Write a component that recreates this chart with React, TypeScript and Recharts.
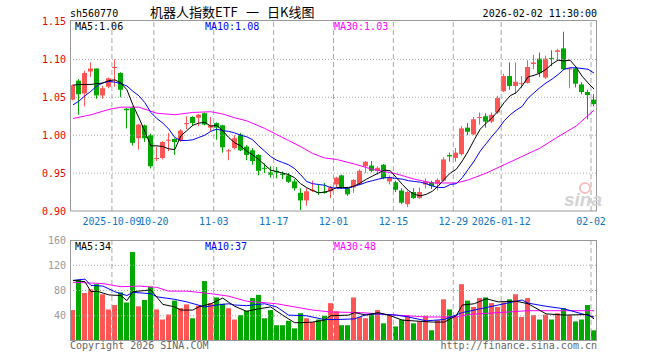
import React from 'react';
import { ComposedChart, Bar, Line, XAxis, YAxis, ReferenceLine } from 'recharts';

const dates = [
  '2025-09-22','2025-09-23','2025-09-24','2025-09-25','2025-09-26','2025-09-29','2025-09-30','2025-10-09','2025-10-10','2025-10-13',
  '2025-10-14','2025-10-15','2025-10-16','2025-10-17','2025-10-20','2025-10-21','2025-10-22','2025-10-23','2025-10-24','2025-10-27',
  '2025-10-28','2025-10-29','2025-10-30','2025-10-31','2025-11-03','2025-11-04','2025-11-05','2025-11-06','2025-11-07','2025-11-10',
  '2025-11-11','2025-11-12','2025-11-13','2025-11-14','2025-11-17','2025-11-18','2025-11-19','2025-11-20','2025-11-21','2025-11-24',
  '2025-11-25','2025-11-26','2025-11-27','2025-11-28','2025-12-01','2025-12-02','2025-12-03','2025-12-04','2025-12-05','2025-12-08',
  '2025-12-09','2025-12-10','2025-12-11','2025-12-12','2025-12-15','2025-12-16','2025-12-17','2025-12-18','2025-12-19','2025-12-22',
  '2025-12-23','2025-12-24','2025-12-25','2025-12-26','2025-12-29','2025-12-30','2025-12-31','2026-01-05','2026-01-06','2026-01-07',
  '2026-01-08','2026-01-09','2026-01-12','2026-01-13','2026-01-14','2026-01-15','2026-01-16','2026-01-19','2026-01-20','2026-01-21',
  '2026-01-22','2026-01-23','2026-01-26','2026-01-27','2026-01-28','2026-01-29','2026-01-30','2026-02-02',
];

const opens = [
  1.047,1.072,1.055,1.084,1.088,1.0525,1.064,1.089,1.082,1.035,
  1.036,0.996,1.013,1.000,0.969,0.970,0.993,0.995,0.993,1.015,
  1.024,1.023,1.029,1.010,1.016,1.013,0.979,0.983,1.001,0.985,
  0.980,0.974,0.957,0.951,0.953,0.949,0.947,0.939,0.924,0.914,
  0.927,0.925,0.925,0.926,0.935,0.947,0.930,0.931,0.935,0.959,
  0.960,0.953,0.961,0.939,0.938,0.927,0.909,0.925,0.917,0.935,
  0.938,0.936,0.940,0.974,0.970,0.975,1.010,1.001,1.023,1.025,
  1.018,1.030,1.058,1.078,1.065,1.068,1.069,1.094,1.101,1.076,
  1.102,1.110,1.1145,1.087,1.088,1.067,1.057,1.047,
];
const highs = [
  1.067,1.074,1.085,1.096,1.088,1.065,1.076,1.100,1.083,1.036,
  1.038,1.015,1.014,1.002,0.985,0.992,1.003,0.996,1.008,1.025,
  1.025,1.028,1.030,1.024,1.017,1.014,0.982,1.000,1.003,0.987,
  0.983,0.975,0.963,0.959,0.958,0.952,0.950,0.942,0.930,0.930,
  0.940,0.935,0.937,0.933,0.945,0.948,0.932,0.942,0.955,0.966,
  0.966,0.959,0.962,0.947,0.940,0.930,0.927,0.930,0.931,0.943,
  0.940,0.943,0.971,0.977,0.983,1.012,1.016,1.024,1.030,1.029,
  1.030,1.052,1.081,1.096,1.096,1.078,1.099,1.106,1.109,1.105,
  1.112,1.114,1.1365,1.089,1.089,1.070,1.060,1.054,
];
const lows = [
  1.046,1.027,1.038,1.077,1.048,1.048,1.062,1.064,1.050,1.009,
  0.9865,0.981,0.991,0.956,0.966,0.968,0.979,0.974,0.991,1.008,
  1.012,1.012,1.013,1.005,0.994,0.977,0.967,0.981,0.979,0.967,
  0.961,0.947,0.950,0.944,0.943,0.942,0.937,0.927,0.901,0.907,
  0.925,0.921,0.923,0.917,0.931,0.929,0.920,0.924,0.934,0.950,
  0.951,0.948,0.942,0.935,0.925,0.909,0.905,0.916,0.916,0.930,
  0.929,0.927,0.939,0.965,0.965,0.973,1.000,1.000,1.014,1.010,
  1.016,1.028,1.057,1.060,1.055,1.062,1.068,1.087,1.077,1.074,
  1.091,1.098,1.086,1.062,1.063,1.054,1.021,1.038,
];
const closes = [
  1.066,1.054,1.082,1.088,1.0525,1.062,1.075,1.090,1.060,1.033,
  0.990,1.014,0.996,0.959,0.970,0.991,0.994,0.991,1.006,1.016,
  1.016,1.027,1.014,1.013,1.010,0.984,0.980,0.996,0.980,0.974,
  0.966,0.953,0.956,0.948,0.951,0.948,0.9385,0.930,0.914,0.926,
  0.928,0.924,0.924,0.931,0.944,0.931,0.922,0.941,0.953,0.965,
  0.953,0.957,0.943,0.945,0.928,0.911,0.925,0.917,0.925,0.939,
  0.933,0.941,0.968,0.972,0.977,1.009,1.0045,1.021,1.024,1.018,
  1.027,1.049,1.078,1.065,1.0705,1.069,1.090,1.096,1.082,1.101,
  1.101,1.112,1.087,1.088,1.068,1.057,1.053,1.041,
];
const volumes = [
  49,97,76,82,90,74,50,57,77,61,
  141,55,65,86,50,34,42,64,52,58,
  36,56,95,60,69,59,52,34,41,48,
  68,73,36,49,25,25,32,20,44,36,
  30,34,40,60,47,25,25,69,38,36,
  44,49,28,41,23,34,41,28,31,40,
  17,33,66,50,39,90,64,54,68,69,
  60,54,61,66,74,38,68,41,34,42,
  34,44,52,41,31,34,57,17,
];

const ma5 = [
  1.066,1.067,1.067,1.067,1.068,1.069,1.072,1.073,1.069,1.060,
  1.040,1.023,1.005,0.986,0.986,0.985,0.982,0.981,0.999,1.006,
  1.013,1.016,1.017,1.012,1.013,1.006,0.997,0.990,0.986,0.979,
  0.974,0.968,0.961,0.954,0.952,0.950,0.948,0.944,0.936,0.931,
  0.927,0.924,0.925,0.927,0.931,0.931,0.931,0.933,0.937,0.942,
  0.946,0.950,0.954,0.953,0.944,0.935,0.927,0.922,0.920,0.922,
  0.926,0.933,0.942,0.950,0.955,0.966,0.979,0.994,1.008,1.016,
  1.023,1.032,1.043,1.052,1.056,1.065,1.077,1.079,1.082,1.087,
  1.094,1.099,1.098,1.099,1.090,1.078,1.069,1.061,
];
const ma10 = [
  1.040,1.045,1.052,1.058,1.065,1.069,1.071,1.070,1.068,1.065,
  1.058,1.052,1.043,1.030,1.022,1.016,1.008,0.997,0.993,0.993,
  0.994,0.997,1.000,1.005,1.008,1.006,1.005,1.003,1.000,0.998,
  0.994,0.986,0.979,0.972,0.967,0.964,0.961,0.956,0.948,0.939,
  0.936,0.935,0.934,0.931,0.930,0.930,0.930,0.933,0.935,0.938,
  0.940,0.942,0.944,0.944,0.943,0.942,0.940,0.939,0.938,0.936,
  0.933,0.931,0.931,0.935,0.936,0.944,0.955,0.966,0.979,0.989,
  0.999,1.008,1.019,1.027,1.033,1.038,1.049,1.056,1.063,1.069,
  1.074,1.080,1.087,1.089,1.089,1.088,1.087,1.082,
];
// [index, value] samples
const ma30Points: [number, number][] = [
  [0,1.022],[3,1.027],[6,1.034],[8,1.037],[11,1.037],[14,1.029],[17,1.027],[20,1.030],[23,1.031],
  [25,1.028],[27,1.023],[29,1.019],[32,1.009],[34,1.001],[36,0.993],[38,0.985],[40,0.976],[42,0.970],
  [44,0.968],[47,0.962],[50,0.955],[54,0.949],[57,0.942],[60,0.937],[64,0.937],[66,0.941],[69,0.950],
  [72,0.961],[75,0.972],[78,0.983],[81,0.998],[84,1.012],[87,1.033],
];
const volMa5Points: [number, number][] = [
  [0,96],[2,94],[3,78],[4,79],[6,73],[8,72],[9,64],[10,78],[12,80],[13,81],[15,58],[17,54],[18,49],
  [20,49],[21,54],[23,59],[25,68],[27,55],[29,47],[31,51],[33,54],[35,41],[37,29],[38,29],[40,30],
  [42,33],[43,40],[46,41],[47,45],[49,41],[51,45],[53,40],[55,33],[60,30],[62,30],[64,40],[65,57],
  [67,59],[69,67],[71,62],[74,63],[76,59],[79,43],[82,41],[86,42],[87,35],
];
const volMa10Points: [number, number][] = [
  [0,96],[2,98],[3,88],[5,87],[7,78],[9,72],[10,77],[13,75],[14,70],[17,66],[19,62],[22,54],[24,57],
  [26,59],[27,57],[29,56],[32,59],[34,54],[36,41],[39,40],[42,34],[44,34],[47,35],[49,42],[51,43],
  [54,41],[56,38],[59,32],[62,34],[65,45],[68,51],[71,57],[75,65],[76,60],[79,55],[82,51],[85,43],[87,38],
];
const volMa30Points: [number, number][] = [
  [0,93],[5,91],[8,86],[11,87],[14,85],[16,79],[19,79],[23,75],[26,71],[29,63],[34,59],[37,54],
  [40,49],[43,46],[48,45],[54,41],[59,38],[64,38],[66,42],[71,45],[76,48],[87,48],
];

const tickDates = ['2025-10-09','2025-10-20','2025-11-03','2025-11-17','2025-12-01','2025-12-15','2025-12-29','2026-01-12','2026-02-02'];
const tickLabels = ['2025-10-09','10-20','11-03','11-17','12-01','12-15','12-29','2026-01-12','02-02'];
const priceTicks = [0.9, 0.95, 1.0, 1.05, 1.1, 1.15];
const priceGrid = [0.95, 1.0, 1.05, 1.1];
const volTicks = [0, 40, 80, 120, 160];
const volGrid = [40, 80, 120];

const RED = '#ff5555';
const GREEN = '#00a800';
const BLUE_TXT = '#1076c6';
const MONO = '"DejaVu Sans Mono", "Noto Sans CJK SC", monospace';
const CJK = '"Noto Sans CJK SC", sans-serif';

const fromPoints = (pts: [number, number][]) => {
  const m: Record<number, number> = {};
  pts.forEach(([i, v]) => { m[i] = v; });
  return m;
};
const ma30Map = fromPoints(ma30Points);
const vm5Map = fromPoints(volMa5Points);
const vm10Map = fromPoints(volMa10Points);
const vm30Map = fromPoints(volMa30Points);

const rows = dates.map((d, i) => ({
  date: d,
  open: opens[i],
  high: highs[i],
  low: lows[i],
  close: closes[i],
  range: [lows[i], highs[i]],
  vol: volumes[i],
  up: closes[i] >= opens[i],
  ma5: ma5[i],
  ma10: ma10[i],
  ma30: ma30Map[i] ?? null,
  vma5: vm5Map[i] ?? null,
  vma10: vm10Map[i] ?? null,
  vma30: vm30Map[i] ?? null,
}));

const Candle = (props: any) => {
  let { x, y, height, payload } = props;
  if (height < 0) { y += height; height = -height; }
  const { open, close, high, low } = payload;
  const color = close >= open ? RED : GREEN;
  const span = high - low;
  const py = (p: number) => (span > 0 ? y + ((high - p) / span) * height : y);
  const left = Math.round(x);
  const cx = left + 2.5;
  const top = py(Math.max(open, close));
  const bot = py(Math.min(open, close));
  const bh = Math.max(1, bot - top);
  return (
    <g>
      <line x1={cx} x2={cx} y1={py(high)} y2={py(low)} stroke={color} strokeWidth={1} />
      <rect x={left} y={top} width={5} height={bh} fill={color} />
    </g>
  );
};

const VolBar = (props: any) => {
  let { x, y, height, payload } = props;
  if (height < 0) { y += height; height = -height; }
  return <rect x={Math.round(x)} y={y} width={5} height={height} fill={payload.up ? RED : GREEN} />;
};

const DateTick = (props: any) => {
  const { x, payload } = props;
  const i = tickDates.indexOf(payload.value);
  return (
    <text x={x - 3} y={225} textAnchor="middle" fill={BLUE_TXT} fontSize={10} fontFamily={MONO} letterSpacing={-0.15}>
      {i >= 0 ? tickLabels[i] : ''}
    </text>
  );
};

const App = () => {
  const vlines = (key: string) =>
    tickDates.map((d) => (
      <ReferenceLine key={key + d} x={d} position="start" stroke="#aaaaaa" strokeDasharray="5 3" />
    ));
  return (
    <div style={{ position: 'absolute', left: 0, top: 0, width: 660, height: 360, background: '#fff', overflow: 'hidden' }}>
      <div style={{ position: 'absolute', left: 0, top: 0 }}>
        <ComposedChart width={660} height={231} data={rows} margin={{ top: 20, right: 63, left: 0, bottom: 0 }} barCategoryGap={0} barGap={0}>
          <XAxis dataKey="date" type="category" ticks={tickDates} interval={0} tick={<DateTick />} tickLine={false} axisLine={false} height={20} />
          <YAxis
            type="number"
            domain={[0.9, 1.152]}
            ticks={priceTicks}
            width={70}
            tickSize={0}
            tickMargin={4}
            tickLine={false}
            axisLine={false}
            tickFormatter={(v: number) => v.toFixed(2)}
            tick={{ fill: '#ee0000', fontSize: 10, fontFamily: MONO }}
          />
          {priceGrid.map((p) => (
            <ReferenceLine key={'pg' + p} y={p} stroke="#aaaaaa" strokeDasharray="1 2" />
          ))}
          {vlines('pv')}
          <Bar dataKey="range" shape={<Candle />} isAnimationActive={false} />
          <Line dataKey="ma30" stroke="#ff00ff" strokeWidth={1} dot={false} activeDot={false} connectNulls type="linear" isAnimationActive={false} />
          <Line dataKey="ma10" stroke="#0000ff" strokeWidth={1} dot={false} activeDot={false} connectNulls type="linear" isAnimationActive={false} />
          <Line dataKey="ma5" stroke="#000000" strokeWidth={1} dot={false} activeDot={false} connectNulls type="linear" isAnimationActive={false} />
        </ComposedChart>
      </div>
      <div style={{ position: 'absolute', left: 0, top: 235 }}>
        <ComposedChart width={660} height={110} data={rows} margin={{ top: 5, right: 63, left: 0, bottom: 4 }} barCategoryGap={0} barGap={0}>
          <XAxis dataKey="date" type="category" hide />
          <YAxis
            type="number"
            domain={[0, 160]}
            ticks={volTicks}
            width={70}
            tickSize={0}
            tickMargin={4}
            tickLine={false}
            axisLine={false}
            tickFormatter={(v: number) => (v === 0 ? 'x万' : String(v))}
            tick={{ fill: '#999999', fontSize: 10, fontFamily: MONO }}
          />
          {volGrid.map((p) => (
            <ReferenceLine key={'vg' + p} y={p} stroke="#aaaaaa" strokeDasharray="1 2" />
          ))}
          {vlines('vv')}
          <Bar dataKey="vol" shape={<VolBar />} isAnimationActive={false} />
          <Line dataKey="vma30" stroke="#ff00ff" strokeWidth={1} dot={false} activeDot={false} connectNulls type="linear" isAnimationActive={false} />
          <Line dataKey="vma10" stroke="#0000ff" strokeWidth={1} dot={false} activeDot={false} connectNulls type="linear" isAnimationActive={false} />
          <Line dataKey="vma5" stroke="#000000" strokeWidth={1} dot={false} activeDot={false} connectNulls type="linear" isAnimationActive={false} />
        </ComposedChart>
      </div>
      <svg width={660} height={360} style={{ position: 'absolute', left: 0, top: 0, pointerEvents: 'none' }}>
        <rect x={70.5} y={20.5} width={526} height={190.5} fill="none" stroke="#999999" />
        <rect x={70.5} y={240.5} width={526} height={100} fill="none" stroke="#999999" />
        <text x={70} y={17} fontSize={10} fontFamily={MONO} fill="#000">sh560770</text>
        <text x={150} y={17} fontSize={13} fontFamily={CJK} fill="#000">机器人指数ETF</text>
        <text x={246} y={17} fontSize={13} fontFamily={CJK} fill="#000">一</text>
        <text x={267} y={17} fontSize={13} fontFamily={CJK} fill="#000">日K线图</text>
        <text x={597} y={17} fontSize={10} fontFamily={MONO} fill="#000" textAnchor="end">2026-02-02 11:30:00</text>
        <text x={75} y={29.5} fontSize={10} fontFamily={MONO} fill="#000">MA5:1.06</text>
        <text x={205} y={29.5} fontSize={10} fontFamily={MONO} fill="#0000ff">MA10:1.08</text>
        <text x={334} y={29.5} fontSize={10} fontFamily={MONO} fill="#ff00ff">MA30:1.03</text>
        <text x={75} y={250} fontSize={10} fontFamily={MONO} fill="#000">MA5:34</text>
        <text x={205} y={250} fontSize={10} fontFamily={MONO} fill="#0000ff">MA10:37</text>
        <text x={334} y={250} fontSize={10} fontFamily={MONO} fill="#ff00ff">MA30:48</text>
        <text x={70} y={349} fontSize={10} fontFamily={MONO} fill="#666">Copyright 2026 SINA.COM</text>
        <text x={597} y={349} fontSize={10} fontFamily={MONO} fill="#666" textAnchor="end">http://finance.sina.com.cn</text>
        <circle cx={585} cy={188} r={5} fill="none" stroke="#f3c0c0" strokeWidth={2} />
        <text x={564} y={206} fontSize={19} fontWeight="bold" fontStyle="italic" fontFamily="Liberation Sans, sans-serif" fill="#d4d4d4">sina</text>
      </svg>
    </div>
  );
};

export default App;
